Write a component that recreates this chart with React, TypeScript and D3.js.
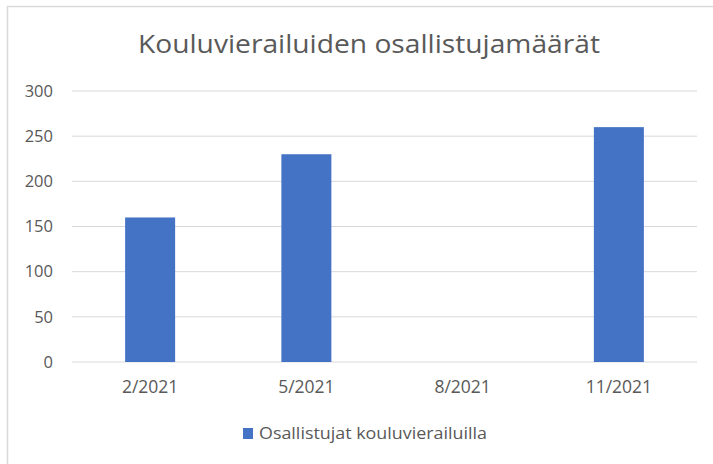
import React from "react";
import * as d3 from "d3";

const title = "Kouluvierailuiden osallistujamäärät";
const categories = ["2/2021", "5/2021", "8/2021", "11/2021"];
const values = [160, 230, 0, 260];
const yTicks = [0, 50, 100, 150, 200, 250, 300];
const seriesName = "Osallistujat kouluvierailuilla";

const W = 713;
const H = 464;
const plot = { left: 72, right: 697, top: 91, bottom: 362 };
const FONT = "'Open Sans', 'Noto Sans', sans-serif";
const TEXT = "#595959";

export default function App() {
  const x = d3
    .scaleBand<string>()
    .domain(categories)
    .range([plot.left, plot.right])
    .paddingInner(0.68)
    .paddingOuter(0.34);
  const y = d3.scaleLinear().domain([0, 300]).range([plot.bottom, plot.top]);

  return (
    <svg
      width={W}
      height={H}
      style={{ position: "absolute", left: 0, top: 0, background: "#fff" }}
    >
      <rect x={7.5} y={6.5} width={W + 10} height={H + 10} fill="#fff" stroke="#d9d9d9" strokeWidth={1.5} />
      <text
        x={369}
        y={53}
        textAnchor="middle"
        fontFamily={FONT}
        fontSize={25}
        fill={TEXT}
        textLength={462}
        lengthAdjust="spacingAndGlyphs"
      >
        {title}
      </text>
      {yTicks.map((t) => (
        <g key={t}>
          <line
            x1={plot.left}
            x2={plot.right}
            y1={y(t)}
            y2={y(t)}
            stroke="#d9d9d9"
            strokeWidth={1}
          />
          <text
            x={53}
            y={y(t)}
            dy="0.35em"
            textAnchor="end"
            fontFamily={FONT}
            fontSize={16.5}
            fill={TEXT}
          >
            {t}
          </text>
        </g>
      ))}
      {categories.map((c, i) =>
        values[i] > 0 ? (
          <rect
            key={c}
            x={x(c)}
            y={y(values[i])}
            width={x.bandwidth()}
            height={y(0) - y(values[i])}
            fill="#4472C4"
          />
        ) : null
      )}
      {categories.map((c) => (
        <text
          key={c}
          x={(x(c) as number) + x.bandwidth() / 2}
          y={386.5}
          dy="0.35em"
          textAnchor="middle"
          fontFamily={FONT}
          fontSize={17.5}
          fill={TEXT}
        >
          {c}
        </text>
      ))}
      <rect x={243} y={428} width={10} height={11} fill="#4472C4" />
      <text
        x={259}
        y={433.5}
        dy="0.35em"
        fontFamily={FONT}
        fontSize={16.5}
        fill={TEXT}
        textLength={228}
        lengthAdjust="spacingAndGlyphs"
      >
        {seriesName}
      </text>
    </svg>
  );
}
